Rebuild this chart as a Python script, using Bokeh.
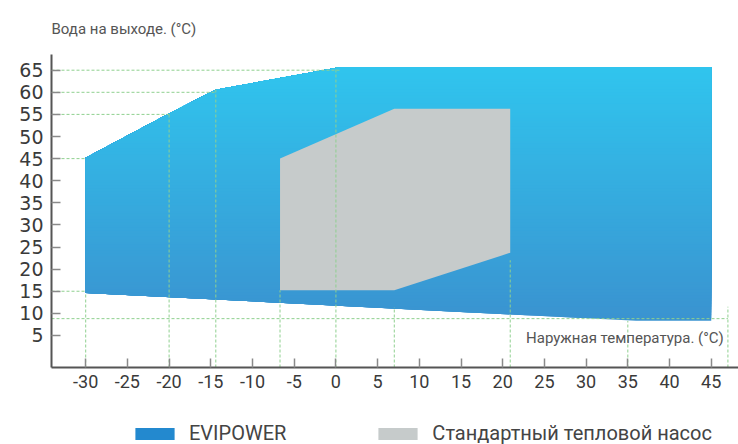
import numpy as np
from bokeh.plotting import figure
from bokeh.layouts import column
from bokeh.models import FixedTicker, Label, Legend, LegendItem, Range1d, ColumnDataSource
from bokeh.embed import file_html
from bokeh.resources import INLINE

# ---- data ----
evi_x = [-30, -20, -14.4, 0.6, 45, 45, 36, -30]
evi_y = [45.2, 55.2, 60.6, 65.7, 65.7, 8.3, 8.3, 14.6]
std_x = [-6.7, 7.0, 20.9, 20.9, 7.0, -6.7]
std_y = [45.0, 56.3, 56.3, 23.7, 15.2, 15.2]
guide_h_y = [65, 60, 55, 45, 15, 8.8]
guide_h_xend = [0.6, -14.4, -20, -30, -30, 47]
guide_v_x = [-30, -20, -14.4, -6.7, 0, 7.0, 20.9, 35, 47]
guide_v_ytop = [14.6, 55.2, 60.6, 15.2, 65.7, 11.4, 22.0, 8.3, 11.5]
x_ticks = list(range(-30, 50, 5))
x_tick_labels = ["-30", "-25", "-20", "-15", "-10", "-5", "0", "5", "10", "15",
                 "20", "25", "30", "35", "40", "45"]
y_ticks = list(range(5, 70, 5))
series_names = ["EVIPOWER", "Стандартный тепловой насос"]
series_colors = ["#2389CF", "#C6CBCB"]
y_title = "Вода на выходе. (°C)"
x_title = "Наружная температура. (°C)"

X_START, X_END = -34.1, 48.27
Y_START, Y_END = -2.25, 68.55

p = figure(width=738, height=400, output_backend="svg", toolbar_location=None,
           x_range=Range1d(X_START, X_END), y_range=Range1d(Y_START, Y_END),
           min_border_left=51, min_border_right=0, min_border_top=53, min_border_bottom=33)
p.outline_line_color = None
p.xgrid.visible = False
p.ygrid.visible = False
p.background_fill_color = "white"


def clip_above(xs, ys, y0):
    out_x, out_y = [], []
    n = len(xs)
    for i in range(n):
        x1, y1 = xs[i], ys[i]
        x2, y2 = xs[(i + 1) % n], ys[(i + 1) % n]
        in1, in2 = y1 >= y0, y2 >= y0
        if in1:
            out_x.append(x1); out_y.append(y1)
        if in1 != in2:
            t = (y0 - y1) / (y2 - y1)
            out_x.append(x1 + t * (x2 - x1)); out_y.append(y0)
    return out_x, out_y


# vertical gradient for the EVIPOWER area (stacked clipped copies)
c_bot = np.array([0x3A, 0x93, 0xD0])
c_top = np.array([0x30, 0xC5, 0xEE])
ymin, ymax = min(evi_y), max(evi_y)
levels = np.linspace(ymin, ymax, 90, endpoint=False)
band_xs, band_ys, band_c = [], [], []
for i, lv in enumerate(levels):
    bx, by = (list(evi_x), list(evi_y)) if i == 0 else clip_above(evi_x, evi_y, lv)
    t = (lv - ymin) / (ymax - ymin)
    c = (c_bot + (c_top - c_bot) * t).round().astype(int)
    band_xs.append(bx); band_ys.append(by)
    band_c.append("#%02x%02x%02x" % tuple(c))
src = ColumnDataSource(dict(xs=band_xs, ys=band_ys, c=band_c))
p.patches("xs", "ys", fill_color="c", line_color=None, source=src)

p.patch(std_x, std_y, fill_color=series_colors[1], line_color=None)

# guide lines
p.segment(x0=[X_START] * len(guide_h_y), y0=guide_h_y, x1=guide_h_xend, y1=guide_h_y,
          line_color="#8FD08F", line_dash="3 2", line_width=1)
p.segment(x0=guide_v_x, y0=[Y_START] * len(guide_v_x), x1=guide_v_x, y1=guide_v_ytop,
          line_color="#8FD08F", line_dash="3 2", line_width=1)

# axes
for ax in (p.xaxis, p.yaxis):
    ax.axis_line_color = "#555555"
    ax.axis_line_width = 2
    ax.major_tick_in = 9
    ax.major_tick_out = 0
    ax.major_tick_line_color = "#8a8a8a"
    ax.major_tick_line_width = 1.5
    ax.minor_tick_line_color = None
    ax.major_label_text_color = "#3a3a3a"
p.xaxis.ticker = FixedTicker(ticks=x_ticks)
p.xaxis.major_label_overrides = {t: s for t, s in zip(x_ticks, x_tick_labels)}
p.yaxis.ticker = FixedTicker(ticks=y_ticks)
p.xaxis.major_label_text_font = "Roboto"
p.xaxis.major_label_text_font_size = "18px"
p.xaxis.major_label_standoff = 7
p.yaxis.major_label_text_font = "DejaVu Sans"
p.yaxis.major_label_text_font_size = "19px"
p.yaxis.major_label_standoff = 8

# titles
p.title.text = y_title
p.title.align = "left"
p.title.text_font = "Roboto"
p.title.text_font_size = "15px"
p.title.text_font_style = "normal"
p.title.text_color = "#555555"
p.title.standoff = 34

p.add_layout(Label(x=22.8, y=4.35, text=x_title, text_font="Roboto",
                   text_font_size="15px", text_baseline="middle", text_color="#555555"))

# ---- legend strip below the chart ----
lg = figure(width=738, height=44, output_backend="svg", toolbar_location=None,
            x_range=Range1d(0, 1), y_range=Range1d(0, 1),
            x_axis_type=None, y_axis_type=None,
            min_border_left=0, min_border_right=0, min_border_top=0, min_border_bottom=0)
lg.outline_line_color = None
lg.xgrid.visible = False
lg.ygrid.visible = False
# swatch renderers kept outside the visible range; they only feed the legend
sw = [lg.patch([-3, -2, -2], [-3, -3, -2], fill_color=c, line_color=None) for c in series_colors]
legend = Legend(items=[LegendItem(label=n, renderers=[r]) for n, r in zip(series_names, sw)],
                location=(79, -1), orientation="horizontal",
                glyph_width=49, glyph_height=15, label_standoff=10, spacing=87,
                padding=0, margin=0, border_line_color=None, background_fill_alpha=0,
                label_text_font="Roboto", label_text_font_size="20px",
                label_text_color="#444444")
lg.add_layout(legend)

layout = column(p, lg, spacing=0)
open("out.html", "w").write(file_html(layout, INLINE))
